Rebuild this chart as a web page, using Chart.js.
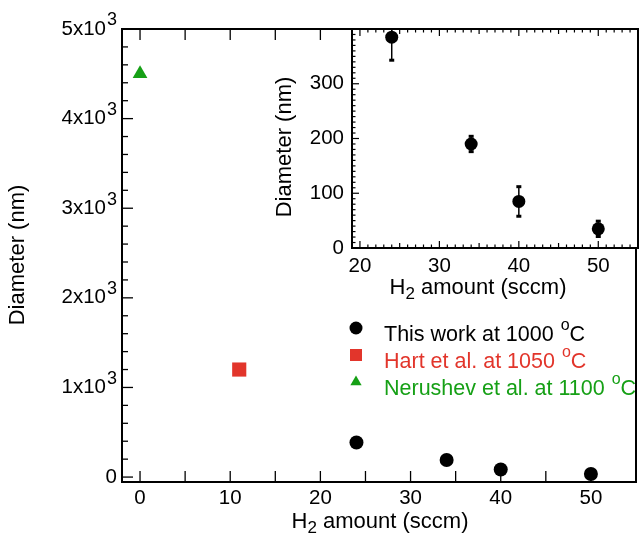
<!DOCTYPE html>
<html>
<head>
<meta charset="utf-8">
<script src="https://cdn.jsdelivr.net/npm/chart.js@4.4.1/dist/chart.umd.min.js"></script>
<style>
  html, body { margin: 0; padding: 0; background: #fff; }
  #wrap { position: relative; width: 639px; height: 543px; }
  #main { position: absolute; left: 0; top: 0; }
  #inset { position: absolute; left: 260px; top: 0; }
</style>
</head>
<body>
<div id="wrap">
  <canvas id="main" width="639" height="543"></canvas>
  <canvas id="inset" width="379" height="310"></canvas>
</div>
<script>
// data
const thisWorkX = [24, 34, 40, 50];
const thisWorkY = [385, 190, 85, 35];
const thisWorkErr = [42, 14, 27, 14];
const hartX = [11];
const hartY = [1200];
const nerushevX = [0];
const nerushevY = [4500];
const seriesLabels = ['This work at 1000 ', 'Hart et al. at 1050 ', 'Nerushev et al. at 1100 '];
const seriesColors = ['#000000', '#e2352b', '#16a016'];
const mainXTicks = [0, 10, 20, 30, 40, 50];
const mainYTicks = [0, 1, 2, 3, 4, 5]; // x10^3
const insetXTicks = [20, 30, 40, 50];
const insetYTicks = [0, 100, 200, 300];

const FONT = '"Liberation Sans", Arial, Helvetica, sans-serif';
const TICK_FS = 20.5;
const TITLE_FS = 22;
const LEGEND_FS = 21.5;

// text with super/subscripts: parts = [[text, 0|1|-1], ...]
function drawRich(ctx, parts, x, y, align, size, color, smallScale) {
  const small = Math.round(size * (smallScale || 0.75));
  let total = 0;
  const widths = parts.map(p => {
    ctx.font = (p[1] ? small : size) + 'px ' + FONT;
    const w = ctx.measureText(p[0]).width + (p[1] === 1 ? 1 : 0);
    total += w;
    return w;
  });
  let cx = align === 'center' ? x - total / 2 : align === 'right' ? x - total : x;
  ctx.fillStyle = color || '#000';
  ctx.textAlign = 'left';
  ctx.textBaseline = 'middle';
  parts.forEach((p, i) => {
    ctx.font = (p[1] ? small : size) + 'px ' + FONT;
    const dy = p[1] === 1 ? -size * 0.42 : p[1] === -1 ? size * 0.3 : 0;
    ctx.fillText(p[0], cx + (p[1] === 1 ? 1 : 0), y + dy);
    cx += widths[i];
  });
}

function range(a, b, step) {
  const out = [];
  for (let v = a; v <= b + 1e-9; v += step) out.push(v);
  return out;
}

function hLine(ctx, x1, x2, y) { ctx.beginPath(); ctx.moveTo(x1, y); ctx.lineTo(x2, y); ctx.stroke(); }
function vLine(ctx, x, y1, y2) { ctx.beginPath(); ctx.moveTo(x, y1); ctx.lineTo(x, y2); ctx.stroke(); }

const mainDecor = {
  id: 'mainDecor',
  afterDraw(chart) {
    const { ctx, chartArea: a, scales: { x, y } } = chart;
    ctx.save();
    ctx.strokeStyle = '#000';
    // ticks pointing inward
    ctx.lineWidth = 1.3;
    range(0, 5000, 200).forEach(v => {
      const py = y.getPixelForValue(v);
      hLine(ctx, a.left, a.left + (v % 1000 === 0 ? 11 : 6), py);
    });
    range(0, 55, 5).forEach(v => {
      const px = x.getPixelForValue(v);
      vLine(ctx, px, a.bottom, a.bottom - 11);
      vLine(ctx, px, a.top, a.top + 11);
    });
    // frame
    ctx.lineWidth = 2;
    ctx.strokeRect(a.left, a.top, a.right - a.left, a.bottom - a.top);

    // tick labels
    mainYTicks.forEach(v => {
      const py = y.getPixelForValue(v * 1000);
      const parts = v === 0 ? [['0', 0]] : [[v + 'x10', 0], ['3', 1]];
      drawRich(ctx, parts, a.left - 5, py, 'right', TICK_FS, '#000', 0.88);
    });
    mainXTicks.forEach(v => {
      drawRich(ctx, [[String(v), 0]], x.getPixelForValue(v), a.bottom + 16, 'center', TICK_FS);
    });
    // axis titles
    drawRich(ctx, [['H', 0], ['2', -1], [' amount (sccm)', 0]], 380, 522, 'center', TITLE_FS);
    ctx.save();
    ctx.translate(18, 255);
    ctx.rotate(-Math.PI / 2);
    drawRich(ctx, [['Diameter (nm)', 0]], 0, 0, 'center', TITLE_FS);
    ctx.restore();

    // legend
    const rows = [330, 357, 384];
    chart.data.datasets.forEach((ds, i) => {
      ctx.fillStyle = ds.backgroundColor;
      ctx.strokeStyle = ds.backgroundColor;
      Chart.helpers.drawPoint(ctx, {
        pointStyle: ds.pointStyle,
        radius: [6.5, 8.5, 6.5][i],
        borderWidth: 0,
        rotation: 0
      }, 356, rows[i] - 2);
      drawRich(ctx, [[ds.label, 0], ['o', 1], ['C', 0]], 384, rows[i] + 5, 'left', LEGEND_FS, ds.backgroundColor);
    });
    ctx.restore();
  }
};

function pts(xs, ys) { return xs.map((v, i) => ({ x: v, y: ys[i] })); }

new Chart(document.getElementById('main'), {
  type: 'scatter',
  data: {
    datasets: [
      { label: seriesLabels[0], data: pts(thisWorkX, thisWorkY), pointStyle: 'circle', pointRadius: 7,
        backgroundColor: seriesColors[0], borderColor: seriesColors[0], pointBorderWidth: 0 },
      { label: seriesLabels[1], data: pts(hartX, hartY), pointStyle: 'rect', pointRadius: 10,
        backgroundColor: seriesColors[1], borderColor: seriesColors[1], pointBorderWidth: 0 },
      { label: seriesLabels[2], data: pts(nerushevX, nerushevY), pointStyle: 'triangle', pointRadius: 8.5,
        backgroundColor: seriesColors[2], borderColor: seriesColors[2], pointBorderWidth: 0 }
    ]
  },
  options: {
    responsive: false,
    animation: false,
    layout: { autoPadding: false, padding: { top: 29, right: 3, left: 0, bottom: 0 } },
    plugins: { legend: { display: false }, tooltip: { enabled: false } },
    scales: {
      x: {
        type: 'linear', min: -2, max: 55,
        grid: { display: false }, border: { display: false }, ticks: { display: false },
        afterFit(s) { s.height = 61; }
      },
      y: {
        type: 'linear', min: -55, max: 5000,
        grid: { display: false }, border: { display: false }, ticks: { display: false },
        afterFit(s) { s.width = 122; }
      }
    }
  },
  plugins: [mainDecor]
});

const insetDecor = {
  id: 'insetDecor',
  beforeDraw(chart) {
    const { ctx, chartArea: a } = chart;
    ctx.save();
    ctx.fillStyle = '#fff';
    ctx.fillRect(a.left, a.top, a.right - a.left, a.bottom - a.top);
    ctx.restore();
  },
  beforeDatasetsDraw(chart) {
    const { ctx, chartArea: a, scales: { x, y } } = chart;
    ctx.save();
    ctx.beginPath();
    ctx.rect(a.left, a.top, a.right - a.left, a.bottom - a.top);
    ctx.clip();
    ctx.strokeStyle = '#000';
    thisWorkX.forEach((v, i) => {
      const px = x.getPixelForValue(v);
      const lo = y.getPixelForValue(thisWorkY[i] - thisWorkErr[i]);
      const hi = y.getPixelForValue(thisWorkY[i] + thisWorkErr[i]);
      ctx.lineWidth = 1.5;
      vLine(ctx, px, lo, hi);
      ctx.lineWidth = 3;
      hLine(ctx, px - 2.5, px + 2.5, lo);
      hLine(ctx, px - 2.5, px + 2.5, hi);
    });
    ctx.restore();
  },
  afterDraw(chart) {
    const { ctx, chartArea: a, scales: { x, y } } = chart;
    ctx.save();
    ctx.strokeStyle = '#000';
    ctx.lineWidth = 1.2;
    range(0, 400, 10).forEach(v => {
      const py = y.getPixelForValue(v);
      hLine(ctx, a.left, a.left + (v % 100 === 0 ? 7 : 3.5), py);
    });
    range(19, 55, 1).forEach(v => {
      const px = x.getPixelForValue(v);
      const len = v % 10 === 0 ? 7 : v % 5 === 0 ? 5 : 3.5;
      vLine(ctx, px, a.bottom, a.bottom - len);
      vLine(ctx, px, a.top, a.top + len);
    });
    ctx.lineWidth = 2;
    ctx.strokeRect(a.left, a.top, a.right - a.left, a.bottom - a.top);

    insetYTicks.forEach(v => {
      drawRich(ctx, [[String(v), 0]], a.left - 8, y.getPixelForValue(v), 'right', TICK_FS);
    });
    insetXTicks.forEach(v => {
      drawRich(ctx, [[String(v), 0]], x.getPixelForValue(v), a.bottom + 18, 'center', TICK_FS);
    });
    drawRich(ctx, [['H', 0], ['2', -1], [' amount (sccm)', 0]], 218, 288, 'center', TITLE_FS);
    ctx.translate(25, 147);
    ctx.rotate(-Math.PI / 2);
    drawRich(ctx, [['Diameter (nm)', 0]], 0, 0, 'center', TITLE_FS);
    ctx.restore();
  }
};

new Chart(document.getElementById('inset'), {
  type: 'scatter',
  data: {
    datasets: [
      { label: seriesLabels[0], data: pts(thisWorkX, thisWorkY), pointStyle: 'circle', pointRadius: 6.5,
        backgroundColor: seriesColors[0], borderColor: seriesColors[0], pointBorderWidth: 0 }
    ]
  },
  options: {
    responsive: false,
    animation: false,
    layout: { autoPadding: false, padding: { top: 29, right: 1, left: 0, bottom: 0 } },
    plugins: { legend: { display: false }, tooltip: { enabled: false } },
    scales: {
      x: {
        type: 'linear', min: 19, max: 55,
        grid: { display: false }, border: { display: false }, ticks: { display: false },
        afterFit(s) { s.height = 62; }
      },
      y: {
        type: 'linear', min: 0, max: 400,
        grid: { display: false }, border: { display: false }, ticks: { display: false },
        afterFit(s) { s.width = 92; }
      }
    }
  },
  plugins: [insetDecor]
});
</script>
</body>
</html>
